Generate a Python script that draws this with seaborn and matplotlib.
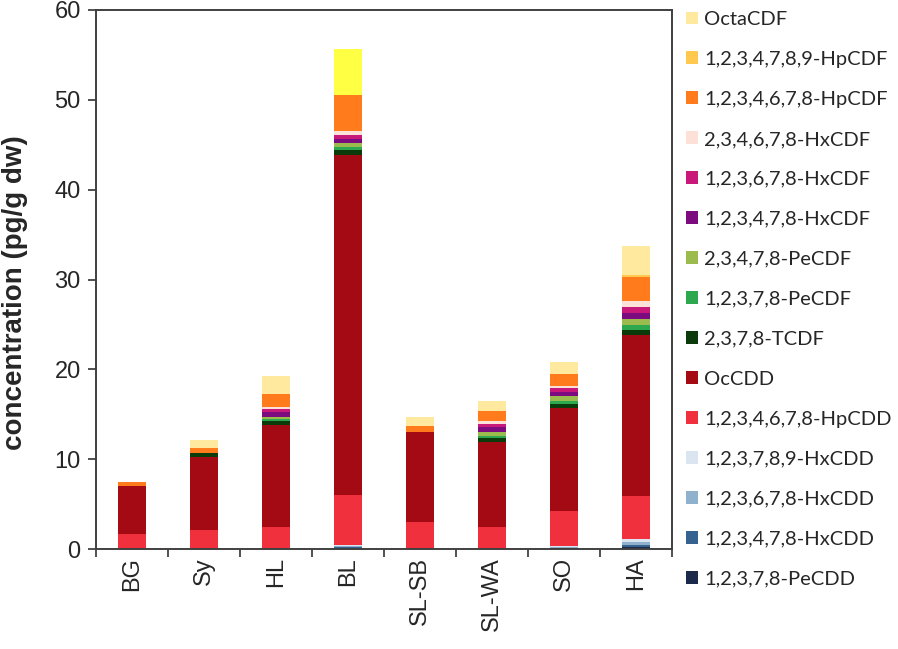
import numpy as np
import matplotlib
matplotlib.use("Agg")
import matplotlib.pyplot as plt
import seaborn as sns
from matplotlib.patches import Patch

sns.set_theme(style="white")
plt.rcParams['font.family'] = ['Liberation Sans', 'DejaVu Sans']

sites = ["BG", "Sy", "HL", "BL", "SL-SB", "SL-WA", "SO", "HA"]

# congeners, bottom of the stack first
congeners = [
    "1,2,3,7,8-PeCDD", "1,2,3,4,7,8-HxCDD", "1,2,3,6,7,8-HxCDD",
    "1,2,3,7,8,9-HxCDD", "1,2,3,4,6,7,8-HpCDD", "OcCDD", "2,3,7,8-TCDF",
    "1,2,3,7,8-PeCDF", "2,3,4,7,8-PeCDF", "1,2,3,4,7,8-HxCDF",
    "1,2,3,6,7,8-HxCDF", "2,3,4,6,7,8-HxCDF", "1,2,3,4,6,7,8-HpCDF",
    "1,2,3,4,7,8,9-HpCDF", "OctaCDF",
]

pecdd = [0.0, 0.0, 0.0, 0.10, 0.0, 0.0, 0.08, 0.20]
hxcdd_123478 = [0.0, 0.0, 0.0, 0.10, 0.0, 0.0, 0.07, 0.20]
hxcdd_123678 = [0.0, 0.0, 0.0, 0.18, 0.0, 0.0, 0.08, 0.40]
hxcdd_123789 = [0.0, 0.0, 0.0, 0.10, 0.0, 0.0, 0.07, 0.27]
hpcdd = [1.67, 2.15, 2.43, 5.57, 3.06, 2.50, 3.88, 4.78]
ocdd = [5.29, 8.12, 11.34, 37.80, 9.99, 9.36, 11.50, 17.95]
tcdf = [0.0, 0.40, 0.48, 0.60, 0.0, 0.48, 0.44, 0.60]
pecdf_12378 = [0.0, 0.0, 0.20, 0.32, 0.0, 0.28, 0.40, 0.48]
pecdf_23478 = [0.0, 0.0, 0.28, 0.40, 0.0, 0.40, 0.48, 0.68]
hxcdf_123478 = [0.0, 0.0, 0.52, 0.48, 0.0, 0.52, 0.44, 0.72]
hxcdf_123678 = [0.0, 0.0, 0.28, 0.48, 0.0, 0.36, 0.48, 0.68]
hxcdf_234678 = [0.0, 0.0, 0.24, 0.44, 0.0, 0.32, 0.28, 0.64]
hpcdf_1234678 = [0.52, 0.55, 1.50, 3.94, 0.60, 1.11, 1.31, 2.66]
hpcdf_1234789 = [0.0, 0.0, 0.0, 0.0, 0.0, 0.0, 0.0, 0.28]
ocdf = [0.0, 0.88, 2.03, 5.13, 0.99, 1.19, 1.31, 3.18]

series = [pecdd, hxcdd_123478, hxcdd_123678, hxcdd_123789, hpcdd, ocdd, tcdf,
          pecdf_12378, pecdf_23478, hxcdf_123478, hxcdf_123678, hxcdf_234678,
          hpcdf_1234678, hpcdf_1234789, ocdf]

colors = ["#1b2a4a", "#35628f", "#8fb1cd", "#dae5f1", "#f0303c", "#a30a14",
          "#0b3a0b", "#2ea84f", "#9bbb4f", "#7b0b7e", "#c8197a", "#fde1d9",
          "#ff7b1c", "#ffc94f", "#ffe99f"]

fig = plt.figure(figsize=(8.98, 6.49), dpi=100)
ax = fig.add_axes([96 / 898, 100 / 649, 576 / 898, 539 / 649])

bottom = np.zeros(len(sites))
for name, vals, col in zip(congeners, series, colors):
    vals = np.array(vals)
    sns.barplot(x=sites, y=vals, bottom=bottom, color=col, width=0.4,
                saturation=1, linewidth=0, ax=ax)
    bottom = bottom + vals

# BL top segment is drawn in bright yellow in the original
ax.containers[-1].patches[3].set_facecolor("#ffff44")

ax.set_xlim(-0.5, len(sites) - 0.5)
ax.set_ylim(0, 60)
ax.set_yticks(range(0, 61, 10))
ax.set_ylabel("concentration (pg/g dw)", fontsize=20, fontweight="bold")
ax.yaxis.set_label_coords(-0.118, 0.476)
ax.set_xlabel("")

ax.set_xticks(range(len(sites)))
ax.set_xticklabels(sites, rotation=90, fontsize=17)
ax.set_xticks(np.arange(-0.5, len(sites), 1.0), minor=True)
ax.tick_params(axis="x", which="major", length=0, pad=6)
ax.tick_params(axis="x", which="minor", length=6, width=1.2, color="#333333",
               direction="out", bottom=True)
ax.tick_params(axis="y", labelsize=17, length=6, width=1.2, color="#333333",
               direction="out", left=True, pad=5)

for sp in ax.spines.values():
    sp.set_color("#404040")
    sp.set_linewidth(1.4)
    sp.set_visible(True)

handles = [Patch(facecolor=c, edgecolor="none", label=n)
           for n, c in zip(congeners, colors)][::-1]
fig.legend(handles=handles, loc="upper left", bbox_to_anchor=(686 / 898, 1 - 11 / 649),
           frameon=False, prop={"family": "Lato", "size": 14.5},
           handlelength=0.6, handleheight=0.6, handletextpad=0.3,
           labelspacing=1.14, borderaxespad=0, borderpad=0)

fig.savefig("out.png", dpi=100)
